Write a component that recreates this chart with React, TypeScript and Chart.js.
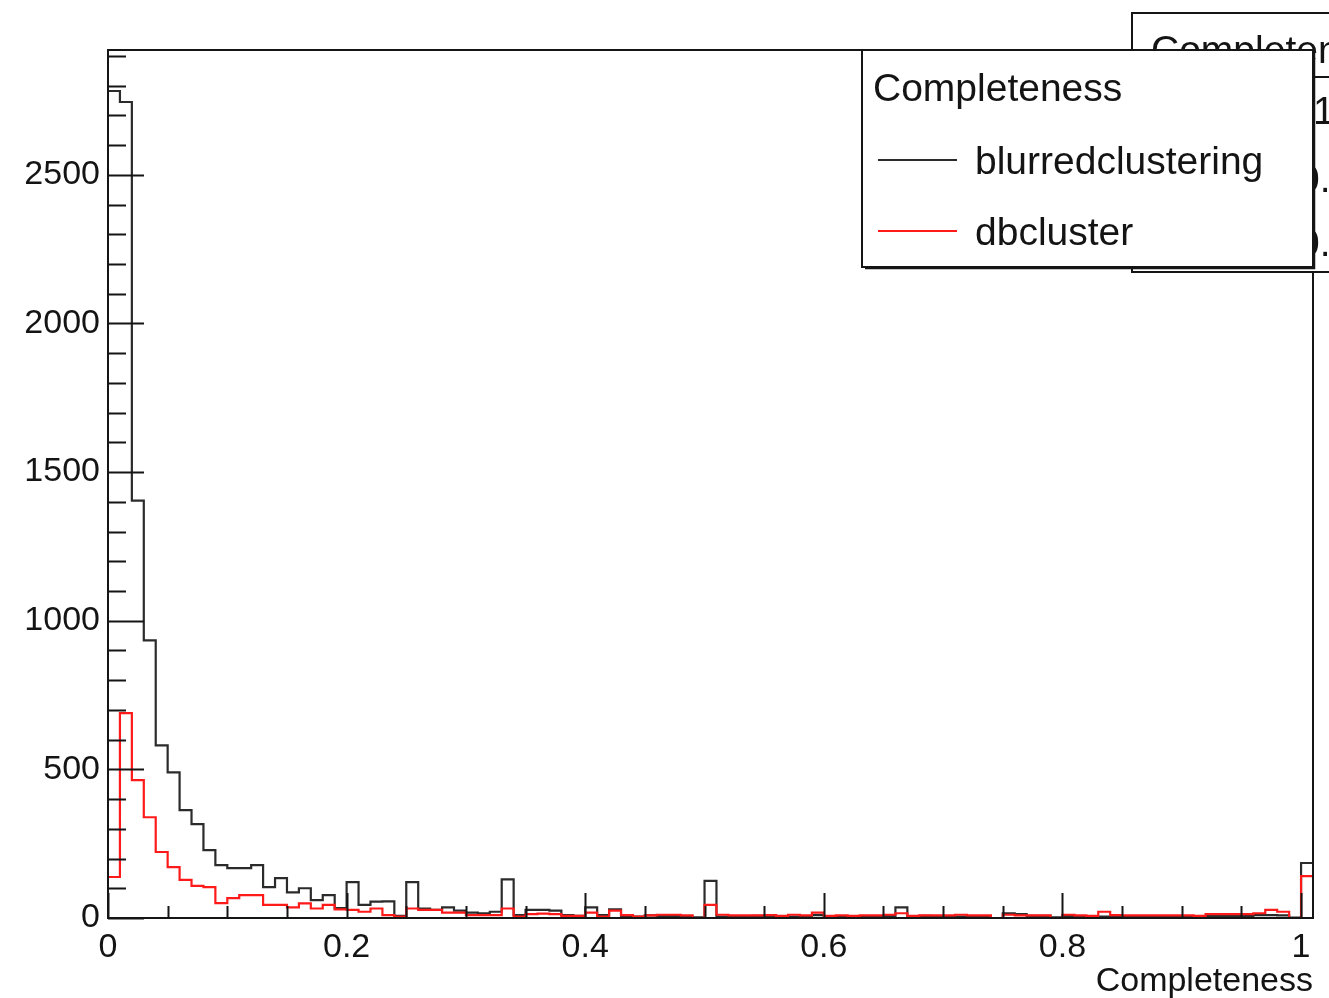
import React, { useEffect, useRef } from "react";
import { Chart, registerables } from "chart.js";

Chart.register(...registerables);

// ---- data ----
const BIN_WIDTH = 0.01;
const X_MIN = 0;
const X_MAX = 1.01;
const Y_MIN = 0;
const Y_MAX = 2920;
const X_MAJOR_STEP = 0.2;
const X_MINOR_STEP = 0.05;
const Y_MAJOR_STEP = 500;
const Y_MINOR_STEP = 100;

const X_TICK_VALUES = [0, 0.2, 0.4, 0.6, 0.8, 1];
const X_TICK_LABELS = ["0", "0.2", "0.4", "0.6", "0.8", "1"];
const Y_TICK_VALUES = [0, 500, 1000, 1500, 2000, 2500];
const Y_TICK_LABELS = ["0", "500", "1000", "1500", "2000", "2500"];
const X_TITLE = "Completeness";
const LEGEND_TITLE = "Completeness";
const SERIES_NAMES = ["blurredclustering", "dbcluster"];
const STATS_TITLE = "Completeness";
const STATS_VALUES = ["1", "0.", "0."];

const blurredclustering = [
  2782, 2745, 1404, 934, 581, 490, 363, 316, 228, 178,
  168, 168, 178, 104, 134, 86, 100, 60, 77, 33,
  121, 44, 55, 56, 7, 121, 32, 27, 36, 25,
  18, 16, 21, 130, 10, 27, 27, 25, 10, 7,
  36, 10, 29, 7, 5, 9, 7, 7, 5, 2,
  125, 5, 5, 5, 7, 5, 2, 5, 5, 10,
  2, 5, 5, 5, 5, 7, 36, 5, 7, 5,
  5, 5, 5, 5, 0, 16, 13, 7, 7, 2,
  7, 5, 2, 5, 5, 5, 5, 5, 5, 5,
  5, 5, 7, 7, 7, 7, 10, 10, 9, 1,
  185,
];

const dbcluster = [
  138, 689, 464, 339, 222, 171, 128, 108, 104, 50,
  67, 77, 77, 44, 44, 36, 49, 32, 44, 29,
  27, 21, 32, 10, 5, 32, 27, 27, 18, 18,
  10, 10, 10, 32, 5, 13, 15, 13, 7, 7,
  18, 5, 25, 10, 5, 9, 11, 11, 9, 0,
  44, 11, 9, 9, 9, 10, 7, 11, 9, 18,
  7, 9, 7, 9, 9, 11, 16, 7, 9, 9,
  9, 11, 9, 9, 0, 11, 9, 9, 9, 0,
  11, 9, 7, 21, 10, 9, 9, 9, 9, 9,
  9, 7, 13, 13, 13, 13, 16, 27, 21, 0,
  141,
];

// ---- styles ----
const FONT = "'Liberation Sans', Arial, Helvetica, sans-serif";
const BLACK_LINE = "#2b2b2b";
const RED_LINE = "#ff1a1a";
const TEXT = "#141414";

function toSteps(values: number[]) {
  const pts = values.map((v, i) => ({ x: X_MIN + i * BIN_WIDTH, y: v }));
  pts.push({ x: X_MIN + values.length * BIN_WIDTH, y: values[values.length - 1] });
  return pts;
}

const rootPlugin = {
  id: "rootDecor",
  beforeDraw(chart: any) {
    const { ctx, width, height } = chart;
    ctx.save();
    ctx.fillStyle = "#ffffff";
    ctx.fillRect(0, 0, width, height);
    ctx.restore();
  },
  afterDatasetsDraw(chart: any) {
    const { ctx, chartArea: a, scales } = chart;
    const xs = scales.x;
    const ys = scales.y;
    ctx.save();
    ctx.strokeStyle = "#151515";
    ctx.lineWidth = 2;
    ctx.beginPath();
    for (let i = 0; i * Y_MINOR_STEP <= Y_MAX; i++) {
      const v = i * Y_MINOR_STEP;
      const py = Math.round(ys.getPixelForValue(v)) + 0.5;
      const len = v % Y_MAJOR_STEP === 0 ? 36 : 18;
      ctx.moveTo(a.left, py);
      ctx.lineTo(a.left + len, py);
    }
    const nx = Math.round(1 / X_MINOR_STEP);
    const perMajor = Math.round(X_MAJOR_STEP / X_MINOR_STEP);
    for (let i = 0; i <= nx; i++) {
      const v = i * X_MINOR_STEP;
      const px = Math.round(xs.getPixelForValue(v)) + 0.5;
      const len = i % perMajor === 0 ? 25 : 12;
      ctx.moveTo(px, a.bottom);
      ctx.lineTo(px, a.bottom - len);
    }
    ctx.stroke();
    ctx.lineWidth = 2;
    ctx.strokeRect(a.left, a.top, a.right - a.left, a.bottom - a.top);
    ctx.restore();
  },
  afterDraw(chart: any) {
    const { ctx } = chart;
    ctx.save();
    // stats box (behind legend)
    ctx.fillStyle = "#ffffff";
    ctx.fillRect(1132, 13, 260, 259);
    ctx.strokeStyle = "#151515";
    ctx.lineWidth = 2;
    ctx.strokeRect(1132, 13, 260, 259);
    ctx.beginPath();
    ctx.moveTo(1132, 77);
    ctx.lineTo(1400, 77);
    ctx.stroke();
    ctx.fillStyle = TEXT;
    ctx.font = `39px ${FONT}`;
    ctx.textBaseline = "alphabetic";
    ctx.textAlign = "left";
    ctx.fillText(STATS_TITLE, 1151, 63);
    ctx.fillText(STATS_VALUES[0], 1313, 124);
    ctx.fillText(STATS_VALUES[1], 1298, 192);
    ctx.fillText(STATS_VALUES[2], 1298, 256);

    // legend box
    const lx = 862, ly = 50, lw = 451, lh = 217;
    ctx.fillStyle = "#ffffff";
    ctx.fillRect(lx, ly, lw, lh);
    ctx.strokeStyle = "#151515";
    ctx.lineWidth = 2;
    ctx.strokeRect(lx, ly, lw, lh);
    ctx.lineWidth = 1.5;
    ctx.beginPath();
    ctx.moveTo(lx + lw + 1.5, ly + 3);
    ctx.lineTo(lx + lw + 1.5, ly + lh + 1.5);
    ctx.lineTo(lx + 3, ly + lh + 1.5);
    ctx.stroke();

    ctx.fillStyle = TEXT;
    ctx.font = `39px ${FONT}`;
    ctx.textBaseline = "middle";
    ctx.fillText(LEGEND_TITLE, 873, 90);

    const entries = [
      { name: SERIES_NAMES[0], color: BLACK_LINE, y: 160 },
      { name: SERIES_NAMES[1], color: RED_LINE, y: 231 },
    ];
    for (const e of entries) {
      ctx.strokeStyle = e.color;
      ctx.lineWidth = 2.2;
      ctx.beginPath();
      ctx.moveTo(878, e.y);
      ctx.lineTo(957, e.y);
      ctx.stroke();
      ctx.fillStyle = TEXT;
      ctx.fillText(e.name, 975, e.y + 3);
    }
    ctx.restore();
  },
};

export default function App() {
  const ref = useRef<HTMLCanvasElement>(null);
  useEffect(() => {
    const prev = document.body.style.margin;
    document.body.style.margin = "0";
    const canvas = ref.current as HTMLCanvasElement;
    const chart = new Chart(canvas, {
      type: "line",
      data: {
        datasets: [
          {
            label: SERIES_NAMES[1],
            data: toSteps(dbcluster),
            borderColor: RED_LINE,
            borderWidth: 2.2,
            pointRadius: 0,
            stepped: true,
            fill: false,
          },
          {
            label: SERIES_NAMES[0],
            data: toSteps(blurredclustering),
            borderColor: BLACK_LINE,
            borderWidth: 2.2,
            pointRadius: 0,
            stepped: true,
            fill: false,
          },
        ],
      },
      options: {
        responsive: false,
        animation: false,
        parsing: false as any,
        layout: { padding: { left: 0, top: 50, right: 16, bottom: 0 } },
        plugins: {
          legend: { display: false },
          tooltip: { enabled: false },
        },
        scales: {
          x: {
            type: "linear",
            min: X_MIN,
            max: X_MAX,
            grid: { display: false },
            border: { display: false },
            afterBuildTicks: (s: any) => {
              s.ticks = X_TICK_VALUES.map((v) => ({ value: v }));
            },
            ticks: {
              autoSkip: false,
              maxRotation: 0,
              padding: 1,
              color: TEXT,
              font: { family: FONT, size: 34 },
              callback: (v: any) => {
                const idx = X_TICK_VALUES.findIndex((t) => Math.abs(t - Number(v)) < 1e-6);
                return idx >= 0 ? X_TICK_LABELS[idx] : "";
              },
            },
            title: {
              display: true,
              text: X_TITLE,
              align: "end",
              color: TEXT,
              font: { family: FONT, size: 34 },
              padding: { top: 0, bottom: -4 },
            },
            afterFit: (s: any) => {
              s.height = 80;
            },
          },
          y: {
            type: "linear",
            min: Y_MIN,
            max: Y_MAX,
            grid: { display: false },
            border: { display: false },
            afterBuildTicks: (s: any) => {
              s.ticks = Y_TICK_VALUES.map((v) => ({ value: v }));
            },
            ticks: {
              autoSkip: false,
              padding: 0,
              color: TEXT,
              font: { family: FONT, size: 34 },
              callback: (v: any) => {
                const idx = Y_TICK_VALUES.indexOf(Number(v));
                return idx >= 0 ? Y_TICK_LABELS[idx] : "";
              },
            },
            afterFit: (s: any) => {
              s.width = 108;
            },
          },
        },
      },
      plugins: [rootPlugin],
    } as any);
    return () => {
      chart.destroy();
      document.body.style.margin = prev;
    };
  }, []);
  return (
    <div style={{ width: 1329, height: 998, background: "#fff" }}>
      <canvas ref={ref} width={1329} height={998} style={{ display: "block", width: 1329, height: 998 }} />
    </div>
  );
}
